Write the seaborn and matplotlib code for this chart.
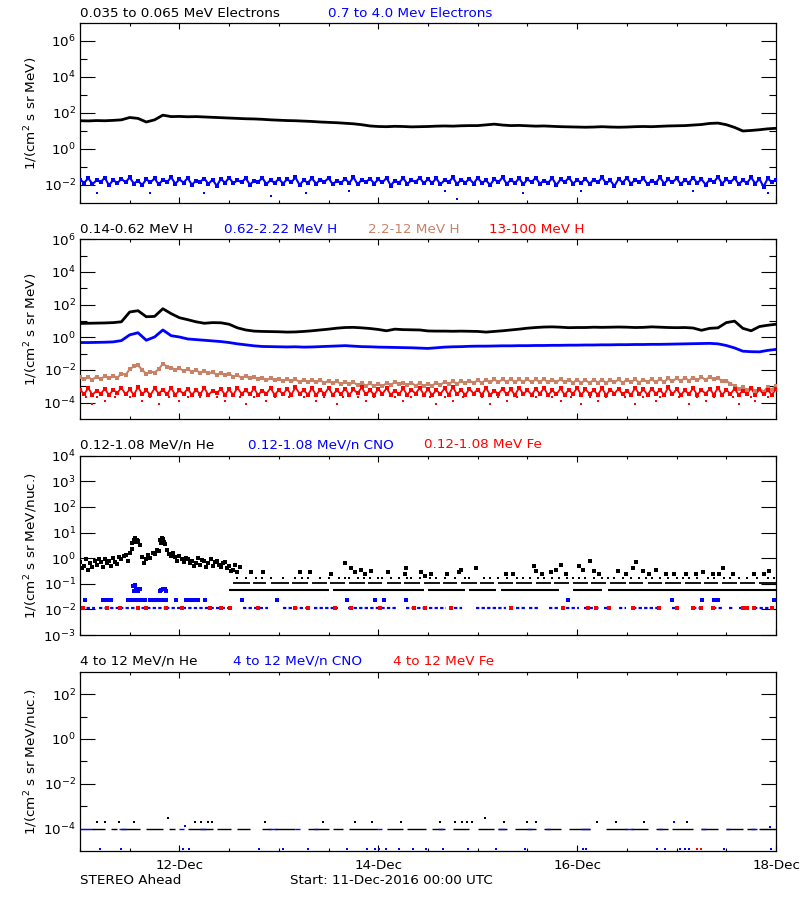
import numpy as np
import pandas as pd
import seaborn as sns
import matplotlib.pyplot as plt
import matplotlib.dates as mdates
from matplotlib.ticker import FixedLocator, LogFormatterMathtext, NullFormatter

# Constants
OUTPUT_FILE = "out.png"
START = pd.Timestamp("2016-12-11 00:00")
END = pd.Timestamp("2016-12-18 00:00")
BLUE = "#0000ff"
RED = "#ff0000"
BROWN = "#c98266"
FONT_SIZE = 9.7

# Sampling grids, hours after start
HOURS_2H = np.arange(0, 169, 2)
HOURS_1H = np.arange(0, 169, 1)

# Panel 1, electrons (log10 flux)
E_LOW = [1.57, 1.56, 1.58, 1.57, 1.59, 1.62, 1.75, 1.70, 1.50, 1.62,
         1.88, 1.80, 1.81, 1.79, 1.80, 1.78, 1.76, 1.74, 1.72, 1.70,
         1.68, 1.67, 1.65, 1.62, 1.60, 1.58, 1.57, 1.55, 1.53, 1.50,
         1.48, 1.46, 1.43, 1.40, 1.35, 1.28, 1.25, 1.24, 1.26, 1.25,
         1.23, 1.24, 1.25, 1.27, 1.28, 1.27, 1.29, 1.30, 1.30, 1.34,
         1.38, 1.33, 1.30, 1.31, 1.29, 1.27, 1.28, 1.26, 1.24, 1.23,
         1.22, 1.21, 1.22, 1.24, 1.22, 1.21, 1.22, 1.24, 1.25, 1.24,
         1.26, 1.28, 1.29, 1.30, 1.33, 1.36, 1.42, 1.44, 1.35, 1.20,
         1.00, 1.03, 1.07, 1.12, 1.15]
E_HIGH = [-1.70, -1.88, -1.62, -1.95, -1.74, -1.83, -1.60, -2.02, -1.72, -1.90, -1.66, -1.85,
          -1.58, -1.92, -1.76, -2.00, -1.68, -1.86, -1.63, -1.97, -1.71, -1.84, -1.57, -1.93,
          -1.69, -1.87, -1.61, -1.99, -1.75, -1.82, -1.64, -1.94, -1.70, -2.05, -1.66, -1.88,
          -1.59, -1.91, -1.73, -1.86, -1.62, -1.98, -1.77, -1.84, -1.60, -1.95, -1.72, -1.89,
          -1.65, -1.92, -1.68, -1.85, -1.58, -2.00, -1.74, -1.87, -1.63, -1.93, -1.70, -1.83,
          -1.61, -1.96, -1.76, -1.88, -1.66, -1.90, -1.56, -1.97, -1.71, -1.85, -1.64, -1.92,
          -1.69, -1.86, -1.60, -2.03, -1.75, -1.88, -1.62, -1.94, -1.73, -1.84, -1.59, -1.91,
          -1.67, -1.89, -1.63, -1.97, -1.72, -1.85, -1.58, -1.95, -1.70, -1.87, -1.65, -1.92,
          -1.61, -1.88, -1.74, -2.00, -1.67, -1.86, -1.57, -1.94, -1.71, -1.89, -1.63, -1.96,
          -1.69, -1.84, -1.60, -1.93, -1.76, -1.87, -1.62, -2.01, -1.68, -1.85, -1.59, -1.92,
          -1.72, -1.88, -1.64, -1.95, -1.70, -1.86, -1.58, -1.90, -1.74, -2.06, -1.66, -1.87,
          -1.60, -1.93, -1.71, -1.85, -1.63, -1.97, -1.75, -1.88, -1.57, -1.92, -1.69, -1.86,
          -1.62, -1.95, -1.73, -1.87, -1.59, -1.90, -1.67, -1.98, -1.70, -1.84, -1.55, -1.93,
          -1.68, -1.86, -1.61, -1.96, -1.74, -1.89, -1.58, -1.92, -1.66, -2.10, -1.63, -1.85,
          -1.70]
E_HIGH_LOW_HOURS = [4, 17, 30, 46, 54.5, 65, 88, 91, 107, 121, 148, 166]
E_HIGH_LOW_VALUES = [-2.44, -2.44, -2.44, -2.60, -2.44, -2.31, -2.36, -2.78, -2.46, -2.36, -2.36, -2.46]

# Panel 2, protons (log10 flux)
H_1 = [0.85, 0.86, 0.87, 0.88, 0.90, 0.95, 1.55, 1.63, 1.26, 1.28,
       1.75, 1.45, 1.20, 1.08, 0.95, 0.86, 0.90, 0.89, 0.80, 0.58,
       0.45, 0.38, 0.36, 0.35, 0.34, 0.32, 0.33, 0.36, 0.40, 0.45,
       0.50, 0.56, 0.60, 0.61, 0.58, 0.54, 0.48, 0.40, 0.50, 0.47,
       0.46, 0.45, 0.39, 0.38, 0.38, 0.37, 0.38, 0.37, 0.36, 0.32,
       0.36, 0.40, 0.45, 0.50, 0.56, 0.60, 0.63, 0.64, 0.62, 0.59,
       0.60, 0.60, 0.62, 0.61, 0.62, 0.63, 0.62, 0.60, 0.61, 0.64,
       0.62, 0.60, 0.59, 0.60, 0.57, 0.43, 0.55, 0.58, 0.90, 0.99,
       0.55, 0.40, 0.66, 0.74, 0.80]
H_2 = [-0.32, -0.32, -0.31, -0.30, -0.28, -0.20, 0.15, 0.28, -0.18, 0.02,
       0.45, 0.10, 0.02, -0.10, -0.14, -0.18, -0.22, -0.26, -0.32, -0.40,
       -0.46, -0.52, -0.56, -0.57, -0.58, -0.59, -0.58, -0.60, -0.59, -0.57,
       -0.55, -0.53, -0.51, -0.54, -0.57, -0.58, -0.60, -0.61, -0.62, -0.63,
       -0.64, -0.66, -0.68, -0.64, -0.60, -0.58, -0.57, -0.55, -0.54, -0.54,
       -0.53, -0.52, -0.52, -0.51, -0.51, -0.50, -0.50, -0.49, -0.49, -0.48,
       -0.48, -0.47, -0.47, -0.46, -0.46, -0.45, -0.45, -0.44, -0.44, -0.43,
       -0.43, -0.42, -0.41, -0.40, -0.39, -0.38, -0.37, -0.40, -0.50, -0.65,
       -0.85, -0.88, -0.89, -0.80, -0.74]
H_3 = [-2.45, -2.58, -2.44, -2.60, -2.40, -2.55, -2.38, -2.52, -2.35, -2.48, -2.22, -2.30,
       -1.95, -1.78, -1.72, -1.98, -2.25, -2.10, -2.16, -1.95, -1.62, -1.80, -1.85, -2.00,
       -1.90, -2.05, -1.95, -2.10, -2.02, -2.16, -2.05, -2.20, -2.15, -2.28, -2.18, -2.33,
       -2.24, -2.40, -2.33, -2.47, -2.38, -2.52, -2.43, -2.55, -2.48, -2.62, -2.50, -2.64,
       -2.53, -2.67, -2.55, -2.70, -2.58, -2.72, -2.60, -2.74, -2.62, -2.76, -2.64, -2.78,
       -2.66, -2.82, -2.70, -2.85, -2.72, -2.88, -2.76, -2.92, -2.80, -2.96, -2.82, -2.98,
       -2.86, -3.00, -2.80, -2.92, -2.74, -2.88, -2.78, -2.93, -2.80, -2.95, -2.82, -2.97,
       -2.84, -2.96, -2.78, -2.90, -2.74, -2.86, -2.70, -2.84, -2.68, -2.80, -2.65, -2.79,
       -2.64, -2.78, -2.60, -2.76, -2.58, -2.74, -2.57, -2.73, -2.56, -2.74, -2.58, -2.72,
       -2.57, -2.75, -2.58, -2.73, -2.56, -2.76, -2.59, -2.74, -2.57, -2.75, -2.60, -2.77,
       -2.61, -2.78, -2.62, -2.80, -2.60, -2.77, -2.59, -2.79, -2.61, -2.76, -2.58, -2.78,
       -2.60, -2.75, -2.57, -2.77, -2.59, -2.74, -2.56, -2.76, -2.55, -2.73, -2.52, -2.70,
       -2.50, -2.68, -2.48, -2.66, -2.46, -2.64, -2.44, -2.60, -2.42, -2.58, -2.50, -2.68,
       -2.65, -2.85, -2.95, -3.15, -3.05, -3.25, -3.12, -3.30, -3.15, -3.32, -3.05, -3.20,
       -2.95]
H_4 = [-3.20, -3.48, -3.10, -3.52, -3.26, -3.45, -3.15, -3.53, -3.22, -3.40, -3.08, -3.50,
       -3.18, -3.52, -3.05, -3.47, -3.25, -3.53, -3.12, -3.44, -3.20, -3.50, -3.09, -3.53,
       -3.24, -3.46, -3.14, -3.52, -3.21, -3.48, -3.10, -3.53, -3.27, -3.42, -3.16, -3.51,
       -3.19, -3.53, -3.08, -3.46, -3.23, -3.50, -3.13, -3.53, -3.26, -3.44, -3.11, -3.52,
       -3.22, -3.49, -3.15, -3.53, -3.06, -3.45, -3.24, -3.51, -3.12, -3.53, -3.20, -3.47,
       -3.10, -3.52, -3.25, -3.48, -3.14, -3.53, -3.19, -3.43, -3.07, -3.50, -3.23, -3.53,
       -3.16, -3.46, -3.11, -3.52, -3.26, -3.49, -3.13, -3.53, -3.21, -3.45, -3.09, -3.51,
       -3.18, -3.53, -3.24, -3.47, -3.12, -3.52, -3.05, -3.48, -3.22, -3.53, -3.15, -3.44,
       -3.20, -3.51, -3.10, -3.53, -3.27, -3.46, -3.14, -3.50, -3.19, -3.53, -3.08, -3.48,
       -3.23, -3.52, -3.16, -3.45, -3.11, -3.53, -3.25, -3.49, -3.13, -3.52, -3.21, -3.47,
       -3.09, -3.53, -3.18, -3.46, -3.24, -3.51, -3.12, -3.53, -3.20, -3.44, -3.15, -3.50,
       -3.26, -3.53, -3.10, -3.48, -3.19, -3.52, -3.14, -3.45, -3.22, -3.53, -3.07, -3.49,
       -3.17, -3.52, -3.25, -3.47, -3.12, -3.53, -3.21, -3.46, -3.15, -3.51, -3.09, -3.53,
       -3.20, -3.48, -3.14, -3.52, -3.26, -3.45, -3.11, -3.53, -3.18, -3.50, -3.23, -3.52,
       -3.15]
H_4_ROW_LEVELS = [-3.67, -3.87, -4.11]
H_4_ROW_HOURS = [
    [1.5, 4, 8.5, 12, 17, 21.5, 26, 29, 33, 38.5, 42, 47, 50.5, 54, 59, 63.5, 67, 71, 76, 80,
     84.5, 88, 92.5, 97, 101, 105.5, 110, 114, 118.5, 123, 127, 131.5, 136, 140, 144.5, 149,
     153, 157.5, 162, 166],
    [6, 15, 24, 35, 45, 57, 69, 78, 90, 103, 116, 125, 139, 151, 163],
    [3, 19, 40, 62, 86, 99, 121, 134, 147, 159],
]

# Panel 3, 0.12-1.08 MeV/n ions (log10 flux)
HE_EARLY_A = [-0.15, -0.30, -0.45, -0.35, -0.25, -0.15, -0.05, -0.10, 0.00, -0.22,
              -0.05, 0.12, 0.20, 0.72, 0.68, 0.05, -0.05, 0.00, 0.15, 0.28,
              0.75, 0.30, 0.10, 0.05, 0.10, -0.15, -0.05, -0.10, -0.18, -0.25,
              -0.12, -0.20, -0.30, -0.10, -0.35, -0.15, -0.30, -0.45, -0.55]
HE_EARLY_B = [-0.40, -0.05, -0.20, -0.10, -0.02, -0.35, -0.20, -0.30, -0.15, 0.05,
              0.10, -0.10, 0.35, 0.62, 0.50, -0.20, 0.12, 0.20, 0.30, 0.60,
              0.55, 0.15, 0.22, -0.10, -0.05, 0.02, -0.20, -0.30, 0.00, -0.08,
              -0.35, -0.05, -0.15, -0.25, -0.20, -0.40, -0.50, -0.25, -0.35]
HE_PEAK_HOURS = [12.6, 13.3, 13.8, 19.4, 19.8, 20.3]
HE_PEAK_VALUES = [0.60, 0.78, 0.70, 0.70, 0.80, 0.65]
HE_LATE_HOURS = [41.3, 44.2, 53.1, 55.5, 60.7, 63.9, 65.5, 66.3, 67.9, 68.7,
                 70.3, 74.3, 78.4, 78.6, 82.2, 83.2, 84.7, 88.7, 91.5, 91.9,
                 95.6, 102.8, 104.4, 109.6, 110.0, 111.5, 113.6, 115.0, 116.1, 117.3,
                 120.5, 121.3, 123.2, 124.1, 125.3, 129.8, 131.8, 133.4, 134.2, 135.8,
                 137.4, 139.0, 141.4, 143.4, 146.3, 148.7, 150.3, 152.7, 154.3, 155.1,
                 157.5, 162.7, 165.1, 166.3]
HE_LATE_VALUES = [-0.55, -0.55, -0.55, -0.55, -0.60, -0.20, -0.40, -0.55, -0.45, -0.60,
                  -0.50, -0.55, -0.60, -0.38, -0.55, -0.70, -0.60, -0.60, -0.55, -0.45,
                  -0.39, -0.62, -0.60, -0.30, -0.50, -0.62, -0.55, -0.45, -0.25, -0.60,
                  -0.30, -0.45, -0.10, -0.50, -0.60, -0.50, -0.60, -0.40, -0.15, -0.50,
                  -0.60, -0.45, -0.60, -0.62, -0.60, -0.62, -0.55, -0.60, -0.62, -0.40,
                  -0.62, -0.60, -0.62, -0.50]
HE_ROW_LEVELS = [-0.78, -0.97, -1.26]
HE_ROW_TOP_HOURS = [38, 40, 42.5, 44, 46, 49, 52, 53.5, 55, 58, 60, 62.5, 64, 65, 67, 68.5,
                    70, 72, 73, 75, 77, 79, 80, 82, 84.5, 86, 88, 90.5, 93, 94, 97.5, 99,
                    101, 103, 105.5, 107, 108.5, 110.5, 112, 114, 115.5, 117.5, 119, 120.5,
                    122, 124, 126, 127.5, 129, 131, 133, 135, 136.5, 138, 140, 142, 144,
                    145.5, 147, 149, 151.5, 153, 155.5, 157, 159, 161, 163.5, 166, 167.5]
HE_ROW_MID_SPANS = [(37, 41), (41.8, 45), (46, 50.5), (51.2, 55), (56, 59.5), (60.3, 64),
                    (65, 68.8), (69.5, 73), (74, 77.5), (78.3, 82), (83, 86.8), (87.5, 91),
                    (92, 95.8), (96.5, 100), (101, 104.5), (105.3, 109), (110, 113.8),
                    (114.5, 118), (119, 122.5), (123.3, 127), (128, 131.8), (132.5, 136),
                    (137, 140.5), (141.3, 145), (146, 149.8), (150.5, 154), (155, 158.5),
                    (159.3, 163), (164, 168)]
HE_ROW_LOW_SPANS = [(36, 60), (61, 83), (84, 93), (94, 100.5), (101.5, 115.5),
                    (119, 126), (127.5, 168)]
CNO_LEVELS = [-1.94, -1.62]
CNO_ROW_SPANS = [(0.3, 3.5), (4.7, 9.2), (9.6, 13.2), (13.6, 20.4), (20.8, 36.5), (39.3, 45.4),
                 (49, 55), (56.6, 62.3), (64.7, 76.7), (78.8, 83.2), (84.3, 88.3), (90.3, 92.3),
                 (95.6, 102.8), (105.2, 107.6), (108.4, 110.9), (113.3, 115.7), (117.3, 120.5),
                 (121.7, 125.3), (126.5, 127.7), (130.2, 131.8), (133.4, 139.8), (143, 144.6),
                 (147.9, 150.3), (152.7, 155.1), (156.7, 157.5), (159.1, 160.7), (162.7, 168)]
CNO_UPPER_HOURS = [1.1, 5.5, 6.5, 7.6, 11.6, 12.4, 13.2, 14, 14.8, 15.6, 16.8, 17.6, 18.4,
                   19.2, 20, 20.8, 23.2, 25.7, 26.6, 27.6, 28.5, 30.1, 39, 47.6, 64.5, 71.1,
                   73.4, 78.6, 117.7, 142.8, 150.1, 153, 154, 167.6]
CNO_PEAK_HOURS = [12.8, 13.2, 13.6, 14.0, 13.0, 14.4, 19.2, 19.6, 20.0, 20.4, 20.8]
CNO_PEAK_VALUES = [-1.10, -1.03, -1.20, -1.30, -1.30, -1.22, -1.30, -1.25, -1.20, -1.20, -1.30]
FE_HOURS = [0.7, 6.4, 9.6, 14, 16, 20.8, 24.5, 31.3, 34.1, 36.1, 43, 51.8, 55, 61.5, 65.5,
            72.3, 80.6, 83.2, 89.5, 104, 116.5, 122.5, 124.5, 127.7, 133.4, 139.8, 144,
            147.9, 149.9, 152.7, 160, 161.1, 162.7, 167]
FE_LEVEL = -1.94

# Panel 4, 4-12 MeV/n ions (log10 flux)
HE4_LEVELS = [-4.0, -3.71, -3.51]
HE4_ROW_SPANS = [(3, 6), (7.5, 9), (10, 14.5), (16, 20), (21.5, 23), (26, 32), (33, 36.5),
                 (38, 41), (44, 46), (47, 52), (55, 60), (61, 63.5), (65, 72), (74, 78),
                 (79, 83.5), (85, 88), (90, 94), (96, 100), (101, 103), (105, 110), (112, 116),
                 (118, 123), (127, 132), (133, 137), (139, 142), (143, 148), (150, 154),
                 (156, 160), (161, 163), (164, 168)]
HE4_MID_HOURS = [4, 6, 9.4, 13.1, 27.7, 29.3, 31, 31.8, 44.7, 58.7, 66.3, 70.6, 77.4, 86.9,
                 90.4, 92.1, 93.3, 94.5, 102.4, 107.9, 110, 124.7, 129.4, 136.1, 146.4]
HE4_HIGH_HOURS = [21.2, 97.8]
CNO4_LEVELS = [-4.0, -4.92]
CNO4_ROW_SPANS = [(0, 3), (9.5, 11), (24, 25), (29, 30.5), (45.5, 47.5), (52, 53), (56.5, 57.5),
                  (72, 73), (86.5, 87.5), (101, 102.5), (108, 109), (112.5, 113.5), (121, 123),
                  (131.5, 133.5), (139.5, 140.5), (150, 151), (156, 157), (162, 163.5)]
CNO4_EXTRA_HOURS = [25.4, 143.3, 166.5]
CNO4_EXTRA_VALUES = [-3.90, -3.71, -3.93]
CNO4_LOW_HOURS = [4.8, 9.9, 24.9, 26.2, 43.2, 48.9, 55.1, 64.5, 69.2, 71.2, 72.2, 73.8, 77.1,
                  80.3, 83.4, 87.5, 93.7, 100.4, 107.5, 121.5, 122.2, 139.3, 141.1, 144.9,
                  146.1, 146.9, 155.4, 166.9]
FE4_LOW_HOURS = [149, 149.8]

TITLES = [
    [("0.035 to 0.065 MeV Electrons", "black", 80), ("0.7 to 4.0 Mev Electrons", BLUE, 328)],
    [("0.14-0.62 MeV H", "black", 80), ("0.62-2.22 MeV H", BLUE, 224),
     ("2.2-12 MeV H", BROWN, 368), ("13-100 MeV H", RED, 489)],
    [("0.12-1.08 MeV/n He", "black", 80), ("0.12-1.08 MeV/n CNO", BLUE, 248),
     ("0.12-1.08 MeV Fe", RED, 424)],
    [("4 to 12 MeV/n He", "black", 80), ("4 to 12 MeV/n CNO", BLUE, 233),
     ("4 to 12 MeV Fe", RED, 393)],
]


def to_time(hours):
    """Convert hours after start to timestamps."""
    return START + pd.to_timedelta(np.asarray(hours, dtype=float), unit="h")


def flux(logs):
    """Convert log10 readings back to flux."""
    return 10.0 ** np.asarray(logs, dtype=float)


def draw_line(ax, hours, logs, color, lw):
    sns.lineplot(x=to_time(hours), y=flux(logs), ax=ax, color=color,
                 linewidth=lw, estimator=None, zorder=2)


def draw_dots(ax, hours, logs, color, size=5, zorder=3):
    sns.scatterplot(x=to_time(hours), y=flux(logs), ax=ax, color=color,
                    marker="s", s=size, linewidth=0, zorder=zorder)


def draw_band(ax, hours, logs, color, lw):
    """Noisy channel: jagged trace plus its sample points."""
    draw_line(ax, hours, logs, color, lw)
    draw_dots(ax, hours, logs, color, size=7)


def draw_spans(ax, spans, level, color, lw=1.6, style="solid", zorder=2):
    starts = to_time([s[0] for s in spans]).to_numpy()
    ends = to_time([s[1] for s in spans]).to_numpy()
    ax.hlines(np.full(len(spans), 10.0 ** level), starts, ends, colors=color,
              linewidth=lw, linestyles=style, zorder=zorder)


def style_axis(ax, lo, hi, major, minor, ylabel, show_dates):
    """Log axis with IDL-like inward ticks on all sides."""
    ax.set_yscale("log")
    ax.set_ylim(10.0 ** lo, 10.0 ** hi)
    ax.set_xlim(START, END)
    ax.yaxis.set_major_locator(FixedLocator([10.0 ** e for e in major]))
    ax.yaxis.set_minor_locator(FixedLocator([10.0 ** e for e in minor]))
    ax.yaxis.set_major_formatter(LogFormatterMathtext())
    ax.yaxis.set_minor_formatter(NullFormatter())
    ax.xaxis.set_major_locator(mdates.DayLocator(bymonthday=[12, 14, 16, 18]))
    ax.xaxis.set_minor_locator(mdates.HourLocator(byhour=[0, 12]))
    ax.xaxis.set_major_formatter(mdates.DateFormatter("%d-%b"))
    ax.tick_params(which="both", direction="in", top=True, right=True,
                   width=0.8, labelsize=FONT_SIZE)
    ax.tick_params(axis="y", which="major", length=11, pad=3)
    ax.tick_params(axis="y", which="minor", length=5)
    ax.tick_params(axis="x", which="major", length=4, pad=6)
    ax.tick_params(axis="x", which="minor", length=2)
    ax.tick_params(axis="x", labelbottom=show_dates)
    for spine in ax.spines.values():
        spine.set_linewidth(0.9)
        spine.set_color("black")
    ax.set_xlabel("")
    ax.set_ylabel(ylabel, fontsize=FONT_SIZE)
    ax.yaxis.set_label_coords(-0.058, 0.5)


def main():
    sns.set_style("ticks", {"axes.edgecolor": "black", "xtick.color": "black",
                            "ytick.color": "black", "text.color": "black",
                            "axes.labelcolor": "black"})
    plt.rcParams["font.family"] = ["DejaVu Sans"]

    fig = plt.figure(figsize=(8, 9), dpi=100)
    tops = [23, 239.3, 455.7, 671.7]
    bottoms = [203, 419, 635, 851]
    axes = [fig.add_axes([80 / 800, 1 - b / 900, 696 / 800, (b - t) / 900])
            for t, b in zip(tops, bottoms)]
    ax1, ax2, ax3, ax4 = axes

    # Panel 1
    draw_line(ax1, HOURS_2H, E_LOW, "black", 2.0)
    draw_band(ax1, HOURS_1H, E_HIGH, BLUE, 1.5)
    draw_dots(ax1, E_HIGH_LOW_HOURS, E_HIGH_LOW_VALUES, BLUE, size=4)

    # Panel 2
    draw_line(ax2, HOURS_2H, H_1, "black", 2.0)
    draw_line(ax2, HOURS_2H, H_2, BLUE, 2.0)
    draw_band(ax2, HOURS_1H, H_3, BROWN, 1.5)
    draw_band(ax2, HOURS_1H, H_4, RED, 1.3)
    for level, hours in zip(H_4_ROW_LEVELS, H_4_ROW_HOURS):
        draw_dots(ax2, hours, [level] * len(hours), RED, size=4)

    # Panel 3
    draw_dots(ax3, HOURS_1H[:39], HE_EARLY_A, "black", size=5)
    draw_dots(ax3, HOURS_1H[:39] + 0.5, HE_EARLY_B, "black", size=5)
    draw_dots(ax3, HE_PEAK_HOURS, HE_PEAK_VALUES, "black", size=5)
    draw_dots(ax3, HE_LATE_HOURS, HE_LATE_VALUES, "black", size=5)
    draw_dots(ax3, HE_ROW_TOP_HOURS, [HE_ROW_LEVELS[0]] * len(HE_ROW_TOP_HOURS), "black", size=4)
    draw_spans(ax3, HE_ROW_MID_SPANS, HE_ROW_LEVELS[1], "black", lw=1.3)
    draw_spans(ax3, HE_ROW_LOW_SPANS, HE_ROW_LEVELS[2], "black", lw=1.5)
    draw_spans(ax3, CNO_ROW_SPANS, CNO_LEVELS[0], BLUE, lw=1.6, style=(0, (1.5, 1.0)))
    draw_dots(ax3, CNO_UPPER_HOURS, [CNO_LEVELS[1]] * len(CNO_UPPER_HOURS), BLUE, size=5)
    draw_dots(ax3, CNO_PEAK_HOURS, CNO_PEAK_VALUES, BLUE, size=5)
    draw_dots(ax3, FE_HOURS, [FE_LEVEL] * len(FE_HOURS), RED, size=6, zorder=4)

    # Panel 4
    draw_spans(ax4, HE4_ROW_SPANS, HE4_LEVELS[0], "black", lw=1.0)
    draw_dots(ax4, HE4_MID_HOURS, [HE4_LEVELS[1]] * len(HE4_MID_HOURS), "black", size=4)
    draw_dots(ax4, HE4_HIGH_HOURS, [HE4_LEVELS[2]] * len(HE4_HIGH_HOURS), "black", size=4)
    draw_spans(ax4, CNO4_ROW_SPANS, CNO4_LEVELS[0], BLUE, lw=1.0, zorder=3)
    draw_dots(ax4, CNO4_EXTRA_HOURS, CNO4_EXTRA_VALUES, BLUE, size=4)
    draw_dots(ax4, CNO4_LOW_HOURS, [CNO4_LEVELS[1]] * len(CNO4_LOW_HOURS), BLUE, size=4)
    draw_dots(ax4, FE4_LOW_HOURS, [CNO4_LEVELS[1]] * len(FE4_LOW_HOURS), RED, size=4)

    label_e = "1/(cm$^2$ s sr MeV)"
    label_n = "1/(cm$^2$ s sr MeV/nuc.)"
    style_axis(ax1, -3, 7, [-2, 0, 2, 4, 6], [-1, 1, 3, 5], label_e, False)
    style_axis(ax2, -5, 6, [-4, -2, 0, 2, 4, 6], [-3, -1, 1, 3, 5], label_e, False)
    style_axis(ax3, -3, 4, [-3, -2, -1, 0, 1, 2, 3, 4], [], label_n, False)
    style_axis(ax4, -5, 3, [-4, -2, 0, 2], [-3, -1, 1], label_n, True)

    title_rows = [13.3, 229.5, 445, 661.5]
    for y, items in zip(title_rows, TITLES):
        for text, color, x in items:
            fig.text(x / 800, 1 - y / 900, text, color=color, fontsize=FONT_SIZE,
                     ha="left", va="center")

    fig.text(80 / 800, 1 - 880.5 / 900, "STEREO Ahead", fontsize=FONT_SIZE,
             ha="left", va="center")
    fig.text(290 / 800, 1 - 880.5 / 900, "Start: 11-Dec-2016 00:00 UTC",
             fontsize=FONT_SIZE, ha="left", va="center")

    fig.savefig(OUTPUT_FILE, dpi=100)
    plt.close(fig)


if __name__ == "__main__":
    main()
